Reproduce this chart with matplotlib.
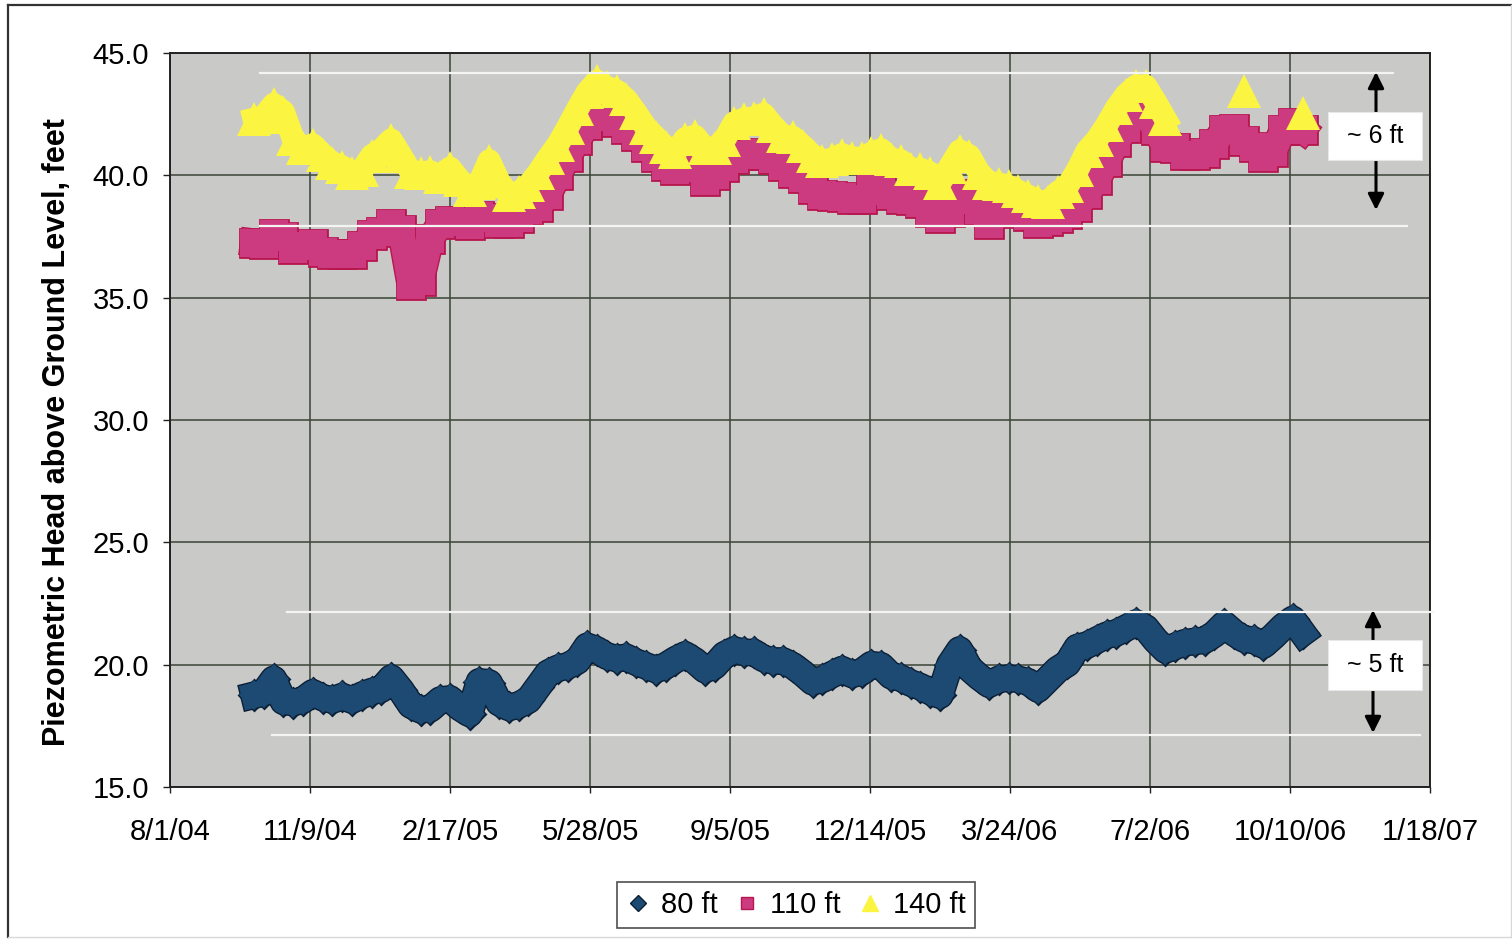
"""
plot.py - piezometric head above ground level at three depths
(80 ft, 110 ft, 140 ft), weekly readings Sep 2004 - Oct 2006.
"""

import numpy as np
import pandas as pd
import matplotlib
matplotlib.use("Agg")
import matplotlib.pyplot as plt
import matplotlib.dates as mdates
from matplotlib.lines import Line2D
from matplotlib.patches import Rectangle

plt.rcParams["font.family"] = ["Liberation Sans", "DejaVu Sans"]

# ---- data (one value per week) ----
FIRST_READING = "2004-09-30"

head_80ft = [
    18.75, 18.85, 19.4, 18.5, 18.45, 18.55, 18.85, 18.65, 18.55, 18.7,
    18.55, 18.75, 18.9, 19.0, 19.45, 18.95, 18.35, 18.15, 18.2, 18.55,
    18.6, 18.25, 18.0, 19.3, 19.25, 18.45, 18.25, 18.35, 18.55, 19.1,
    19.65, 19.85, 19.95, 20.15, 20.75, 20.6, 20.35, 20.25, 20.3, 20.1,
    19.95, 19.8, 19.95, 20.2, 20.4, 20.15, 19.8, 19.95, 20.4, 20.6,
    20.5, 20.5, 20.25, 20.15, 20.15, 19.95, 19.65, 19.3, 19.4, 19.6,
    19.8, 19.6, 19.7, 20.0, 19.95, 19.55, 19.45, 19.25, 19.1, 18.9,
    18.75, 20.0, 20.6, 19.85, 19.5, 19.2, 19.4, 19.45, 19.4, 19.3,
    19.0, 19.4, 19.8, 20.05, 20.7, 20.8, 21.0, 21.2, 21.3, 21.5,
    21.7, 21.5, 21.0, 20.6, 20.75, 20.9, 20.95, 21.0, 21.25, 21.65,
    21.3, 21.05, 21.0, 20.8, 21.15, 21.55, 21.85, 21.3,
]

head_110ft = [
    37.25, 37.2, 37.6, 37.5, 37.0, 37.1, 37.2, 36.85, 36.8, 36.8,
    36.8, 37.1, 37.55, 37.7, 38.0, 37.75, 35.5, 35.7, 37.4, 38.0,
    38.15, 38.1, 37.95, 38.35, 38.25, 38.05, 38.05, 38.25, 38.6, 38.7,
    39.2, 40.0, 40.75, 41.45, 42.05, 42.45, 42.4, 42.2, 41.9, 41.6,
    41.15, 40.75, 40.4, 40.2, 40.3, 40.45, 39.75, 40.0, 40.35, 40.65,
    40.85, 40.9, 40.85, 40.65, 40.4, 40.1, 39.9, 39.45, 39.2, 39.15,
    39.1, 39.05, 39.05, 39.45, 39.35, 39.2, 39.05, 39.0, 38.85, 38.5,
    38.25, 38.5, 39.25, 39.0, 38.6, 38.0, 38.45, 38.5, 38.5, 38.35,
    38.05, 38.15, 38.25, 38.4, 38.7, 39.25, 39.8, 40.55, 41.35, 41.95,
    42.55, 42.55, 41.85, 41.15, 41.1, 40.85, 40.85, 40.9, 41.3, 41.85,
    41.9, 41.4, 41.15, 40.75, 40.95, 41.85, 42.15, 41.85,
]

# None = no reading from the 140 ft transducer that week
head_140ft = [
    42.3, 42.4, 42.9, 42.6, 41.5, 41.1, 41.25, 40.85, 40.5, 40.35,
    40.1, 40.2, 40.8, 41.05, 41.45, 40.8, 40.15, 40.1, 40.15, 39.95,
    40.3, 39.8, 39.4, 39.7, 40.6, 39.75, 39.2, 39.3, 39.6, 40.1,
    40.7, 41.25, 41.95, 42.7, 43.4, 43.85, 43.6, 43.45, 43.1, 42.55,
    41.95, 41.55, 41.15, 40.95, 41.5, 41.6, 41.1, 41.1, 41.45, 42.15,
    42.3, 42.35, 42.5, 42.0, 41.6, 41.55, 41.2, 40.8, 40.6, 40.65,
    40.85, 40.7, 40.7, 40.9, 41.05, 40.65, 40.6, 40.25, 40.25, 40.1,
    39.7, 40.35, 41.0, 40.8, 40.1, 39.7, 39.65, 39.55, 39.35, 39.15,
    38.95, 38.9, 39.3, 39.55, 40.2, 41.0, 41.45, 42.05, 42.75, 43.3,
    43.65, 43.65, 43.0, 42.3, None, None, None, None, None, None,
    None, 43.45, None, None, None, None, None, 42.55,
]

series_labels = ["80 ft", "110 ft", "140 ft"]
y_ticks = [15, 20, 25, 30, 35, 40, 45]
x_start = pd.Timestamp("2004-08-01")
x_end = pd.Timestamp("2007-01-18")
tick_dates = pd.date_range(x_start, x_end, freq="100D")

NAVY, NAVY_EDGE = "#1d4a72", "#0b1f36"
PINK, PINK_EDGE = "#cc3a80", "#b8164e"
YELLOW = "#fbf542"

# ---- figure ----
W, H = 1512, 939
fig = plt.figure(figsize=(W / 100, H / 100), dpi=100)
fig.patch.set_facecolor("white")

# plot area, in reference pixels
AX_L, AX_R, AX_T, AX_B = 170, 1430, 53, 787
ax = fig.add_axes([AX_L / W, 1 - AX_B / H, (AX_R - AX_L) / W, (AX_B - AX_T) / H])
ax.set_facecolor("#c9cac8")


def to_ax(px, py):
    """reference pixel -> axes fraction (annotation layout only)"""
    return (px - AX_L) / (AX_R - AX_L), (AX_B - py) / (AX_B - AX_T)


def draw_band(x, y, marker, ms, lw, face, edge, z):
    # the logger data is so dense that the markers merge into a band;
    # a thick line under the markers gives the same look with weekly values
    if edge is not None:
        ax.plot(x, y, color=edge, lw=lw + 2, marker=marker, ms=ms, mfc=edge,
                mec=edge, mew=2, solid_joinstyle="round", zorder=z)
    ax.plot(x, y, color=face, lw=lw, marker=marker, ms=ms, mfc=face,
            mec=face, mew=0, solid_joinstyle="round", zorder=z + 0.1)


dates = pd.date_range(FIRST_READING, periods=len(head_80ft), freq="7D")
h80 = np.array(head_80ft, dtype=float)
h110 = np.array(head_110ft, dtype=float)
h140 = np.array([np.nan if v is None else v for v in head_140ft], dtype=float)

draw_band(dates, h80, "D", 15, 18, NAVY, NAVY_EDGE, 3)
draw_band(dates, h110, "s", 20, 18.5, PINK, PINK_EDGE, 4)
draw_band(dates, h140, "^", 24, 16.5, YELLOW, None, 5)

# axes, ticks, grid
ax.set_xlim(x_start, x_end)
ax.set_ylim(15, 45)
ax.set_xticks(tick_dates)
ax.xaxis.set_major_formatter(plt.FuncFormatter(
    lambda v, pos: (lambda d: f"{d.month}/{d.day}/{d:%y}")(mdates.num2date(v))))
ax.set_yticks(y_ticks)
ax.yaxis.set_major_formatter(plt.FormatStrFormatter("%.1f"))
ax.grid(True, color="#3a4438", lw=1.1, zorder=1)
ax.set_axisbelow(True)
ax.tick_params(axis="both", labelsize=21, colors="#222222", labelcolor="black",
               direction="out", width=1.0)
ax.tick_params(axis="y", length=5, pad=10)
ax.tick_params(axis="x", length=4, pad=18)
for sp in ax.spines.values():
    sp.set_color("#222222")
    sp.set_linewidth(1.4)

fig.text(57 / W, 1 - 432 / H, "Piezometric Head above Ground Level, feet",
         rotation=90, fontsize=22, fontweight="bold", ha="center", va="center")

# range guide lines (white) and "~ x ft" callouts
guide_lines = [(260, 1393, 72.7), (260, 1407, 225.7), (287, 1433, 612), (272, 1420, 734.5)]
for x0, x1, py in guide_lines:
    (fx0, fy), (fx1, _) = to_ax(x0, py), to_ax(x1, py)
    ax.plot([fx0, fx1], [fy, fy], transform=ax.transAxes, color="#f4f4f2",
            lw=1.6, clip_on=False, zorder=6)

callouts = [
    ("~ 6 ft", 1376, (112, 72), (160, 210), (112, 160)),
    ("~ 5 ft", 1373, (640, 610), (690, 733), (640, 690)),
]
for text, px, up, down, (box_t, box_b) in callouts:
    for tail, tip in (up, down):
        ax.annotate("", xy=to_ax(px, tip), xytext=to_ax(px, tail),
                    xycoords="axes fraction", textcoords="axes fraction",
                    arrowprops=dict(arrowstyle="-|>", color="black", lw=2.2,
                                    mutation_scale=24, shrinkA=0, shrinkB=0),
                    zorder=7)
    bx0, by0 = to_ax(1328, box_b)
    bx1, by1 = to_ax(1422, box_t)
    ax.add_patch(Rectangle((bx0, by0), bx1 - bx0, by1 - by0, transform=ax.transAxes,
                           facecolor="white", edgecolor="#e8e8e8", lw=0.8,
                           clip_on=False, zorder=8))
    ax.text((bx0 + bx1) / 2, (by0 + by1) / 2, text, transform=ax.transAxes,
            fontsize=18, ha="center", va="center", zorder=9)

# legend
handles = [
    Line2D([], [], ls="none", marker="D", ms=8, mfc=NAVY, mec=NAVY_EDGE),
    Line2D([], [], ls="none", marker="s", ms=9, mfc=PINK, mec=PINK_EDGE),
    Line2D([], [], ls="none", marker="^", ms=11, mfc=YELLOW, mec=YELLOW),
]
leg = fig.legend(handles, series_labels, loc="center",
                 bbox_to_anchor=(796 / W, 1 - 905 / H), ncol=3, fontsize=21,
                 frameon=True, fancybox=False, edgecolor="#222222",
                 handlelength=0.8, handletextpad=0.4, columnspacing=0.6,
                 borderpad=0.3)
leg.get_frame().set_linewidth(1.2)

# outer chart border
fig.add_artist(Line2D([8 / W, 1511 / W], [1 - 5 / H, 1 - 5 / H], color="#333333", lw=1.6))
fig.add_artist(Line2D([8 / W, 8 / W], [1 - 5 / H, 1 - 937 / H], color="#333333", lw=1.6))
fig.add_artist(Line2D([8 / W, 1511 / W], [1 - 937 / H, 1 - 937 / H], color="#d8d8d8", lw=1.0))
fig.add_artist(Line2D([1511 / W, 1511 / W], [1 - 5 / H, 1 - 937 / H], color="#d8d8d8", lw=1.0))

fig.savefig("out.png", dpi=100)
